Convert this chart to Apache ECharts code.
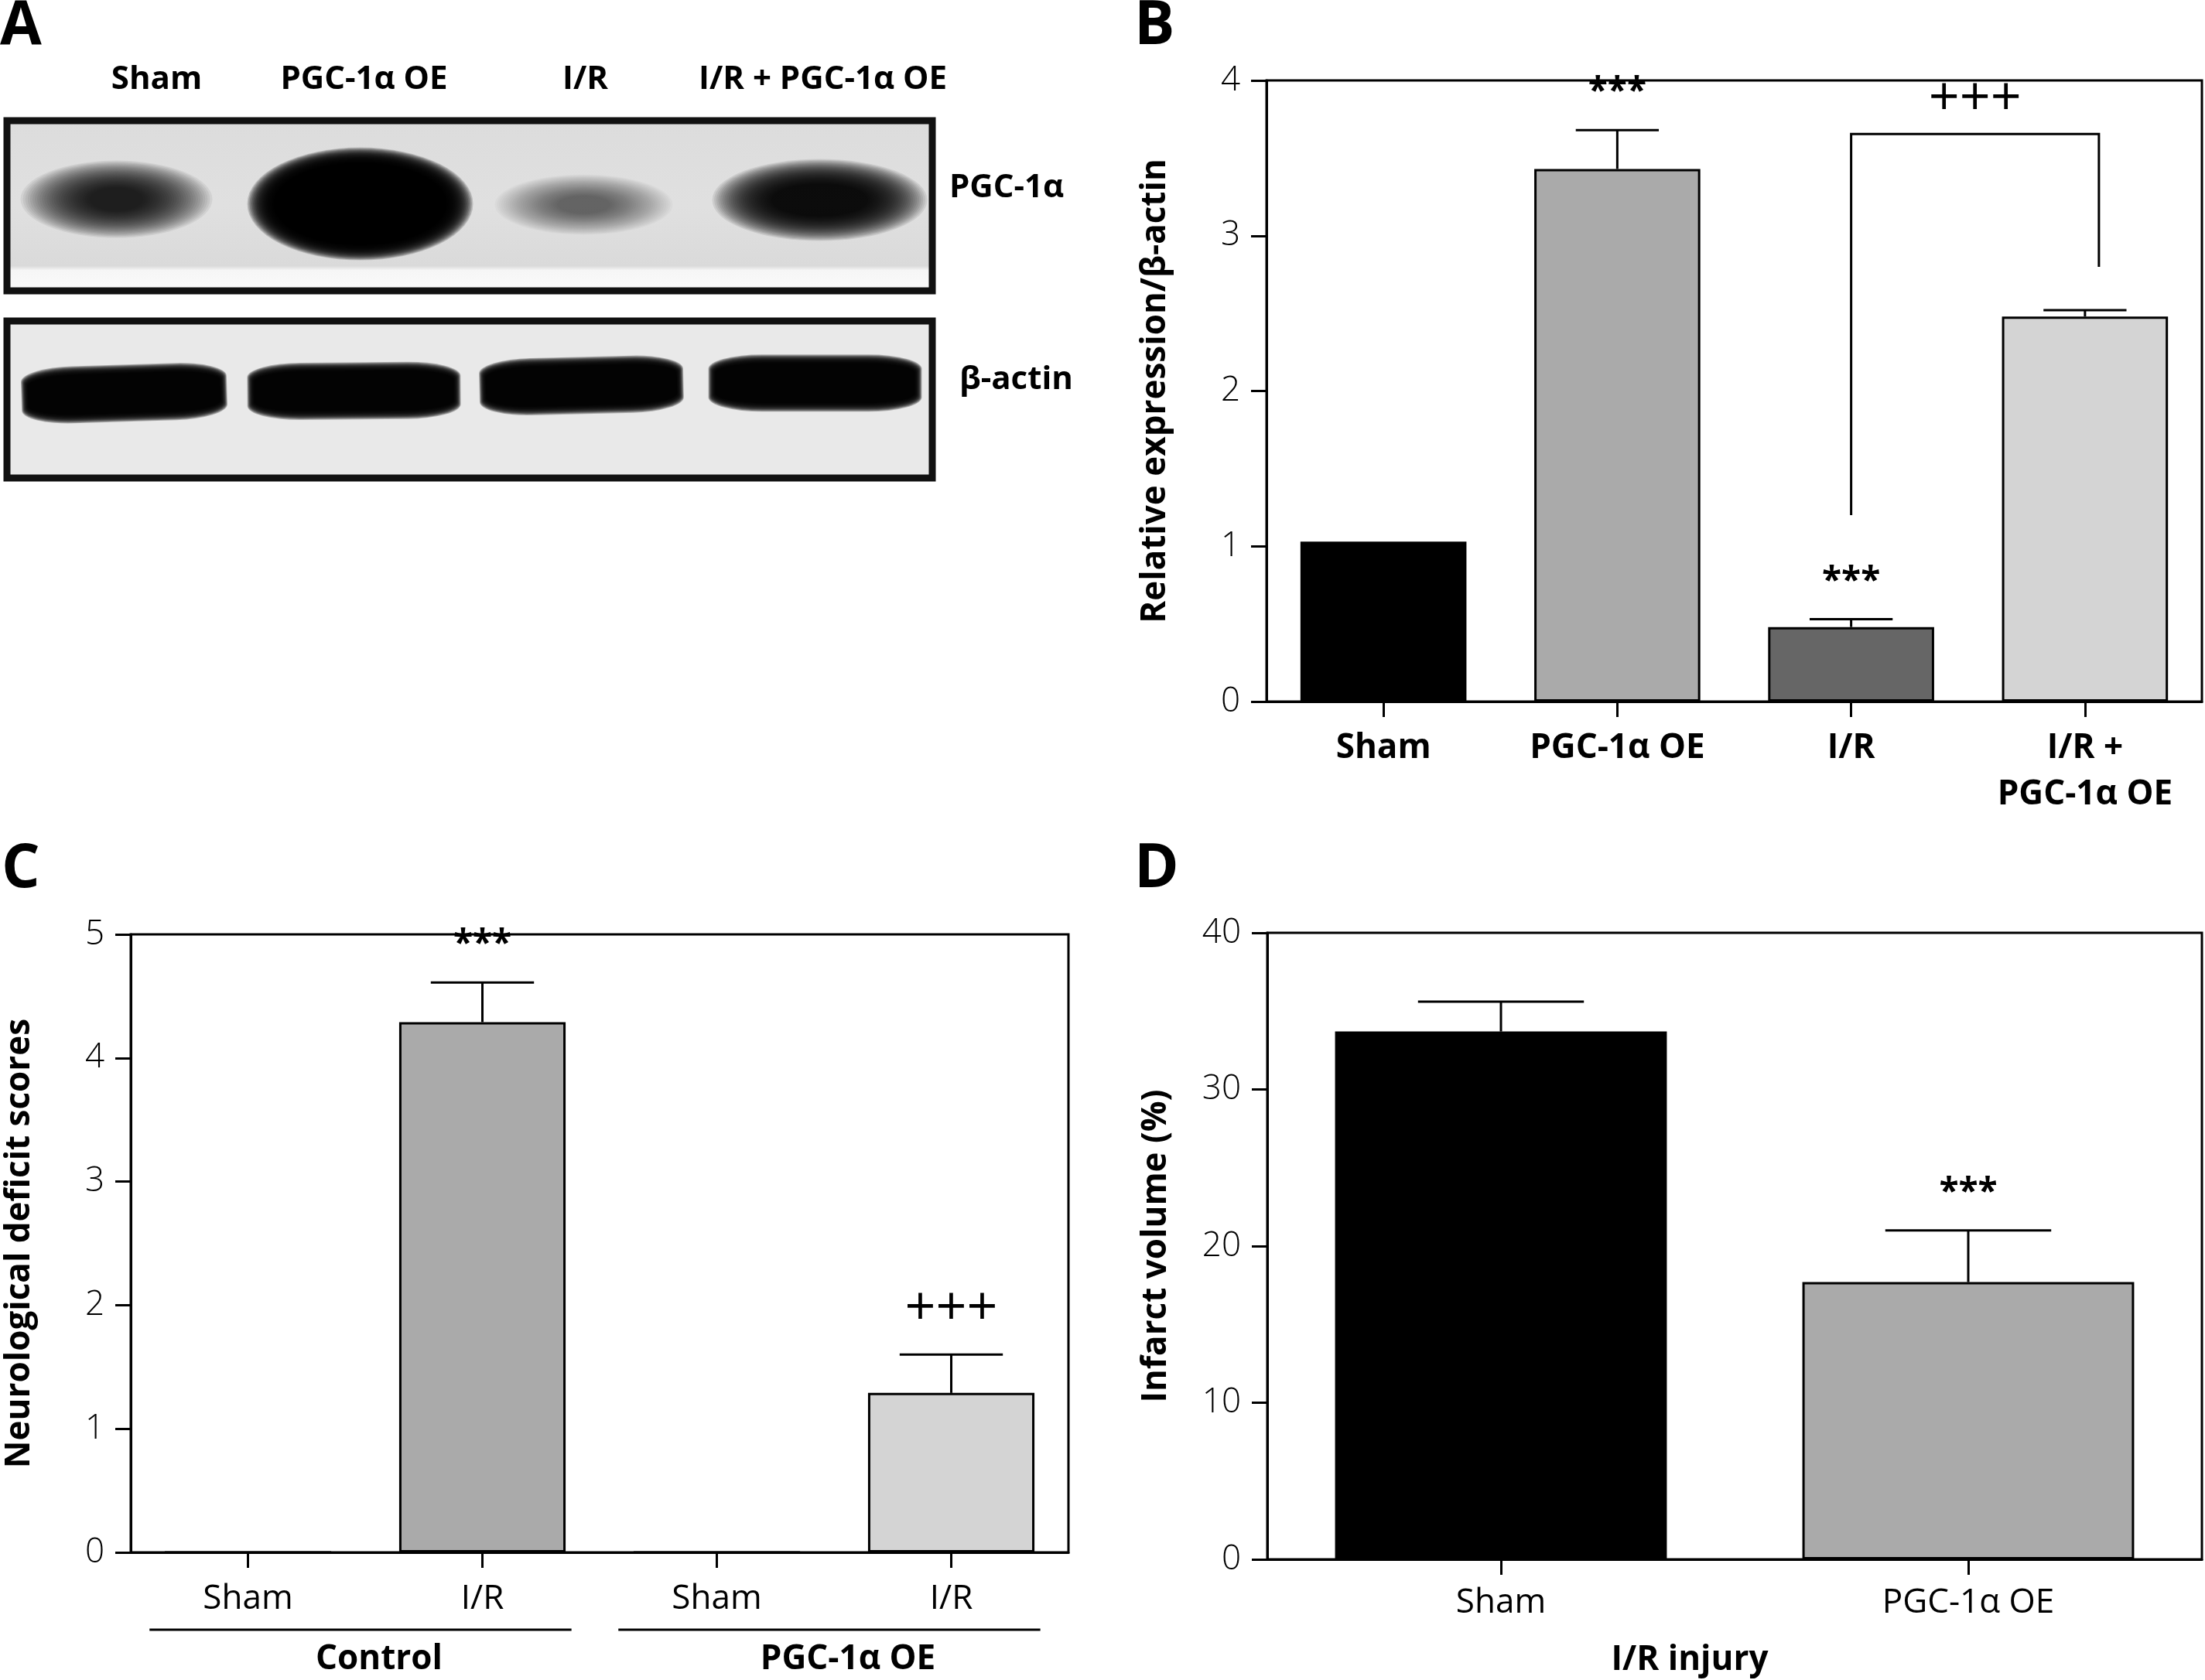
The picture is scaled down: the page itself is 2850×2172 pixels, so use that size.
<!DOCTYPE html>
<html><head><meta charset="utf-8">
<script src="https://cdn.jsdelivr.net/npm/echarts@6/dist/echarts.min.js"></script>
<style>html,body{margin:0;padding:0;background:#fff}#c{width:2850px;height:2172px}</style>
</head><body><div id="c"></div>
<script>
// ---------- Panel A : western blot ----------
const blotLanes = ['Sham', 'PGC-1α OE', 'I/R', 'I/R + PGC-1α OE'];
const blotRows = ['PGC-1α', 'β-actin'];
const pgcBandDensity = [0.9, 0.999, 0.62, 0.96];
const actinBandDensity = [0.995, 0.995, 0.995, 0.995];
// ---------- Panel B ----------
const catsB = ['Sham', 'PGC-1α OE', 'I/R', 'I/R +\nPGC-1α OE'];
const meanB = [1.03, 3.43, 0.48, 2.48];
const semB = [0, 0.25, 0.05, 0.04];
const sigB = ['', '***', '***', ''];
const bracketPairsB = [[2, 3]];
const bracketLevelB = [3.655];
const bracketEndsB = [[1.2, 2.8]];
const bracketMarksB = ['+++'];
const yNameB = 'Relative expression/β-actin';
// ---------- Panel C ----------
const catsC = ['Sham', 'I/R', 'Sham', 'I/R'];
const groupsC = ['Control', 'PGC-1α OE'];
const groupSpanC = [[0, 1], [2, 3]];
const meanC = [0, 4.29, 0, 1.29];
const semC = [0, 0.32, 0, 0.31];
const sigC = ['', '***', '', '+++'];
const yNameC = 'Neurological deficit scores';
// ---------- Panel D ----------
const catsD = ['Sham', 'PGC-1α OE'];
const meanD = [33.7, 17.7];
const semD = [1.9, 3.3];
const sigD = ['', '***'];
const yNameD = 'Infarct volume (%)';
const xNameD = 'I/R injury';

const FONT = '"Open Sans", "DejaVu Sans", sans-serif';
const LW = 3;

const chart = echarts.init(document.getElementById('c'), null, {renderer: 'canvas'});

function valueAxis(gi, max, interval, name) {
  return {
    type: 'value', gridIndex: gi, min: 0, max: max, interval: interval,
    name: name, nameLocation: 'middle', nameGap: 122, nameRotate: 90,
    nameTextStyle: {fontFamily: FONT, fontSize: 44, fontWeight: 'bold', color: '#000'},
    axisLine: {show: true, lineStyle: {color: '#000', width: LW}},
    axisTick: {show: true, length: 20, lineStyle: {color: '#000', width: LW}},
    axisLabel: {show: true, margin: 34, fontFamily: FONT, fontSize: 44, fontWeight: 300, color: '#000'},
    splitLine: {show: false}
  };
}
function catAxis(gi, cats, opts) {
  return Object.assign({
    type: 'category', gridIndex: gi, data: cats, boundaryGap: true,
    axisLine: {show: true, lineStyle: {color: '#000', width: LW}},
    axisTick: {show: true, alignWithLabel: true, length: 20, lineStyle: {color: '#000', width: LW}},
    splitLine: {show: false}
  }, opts);
}
function barSeries(ai, means, colors) {
  return {
    type: 'bar', xAxisIndex: ai, yAxisIndex: ai, barWidth: '71%', silent: true,
    data: means.map((v, i) => ({value: v, itemStyle: {color: colors[i]}})),
    itemStyle: {borderColor: '#000', borderWidth: LW}
  };
}
function errSeries(ai, means, sems, sigs, capFrac) {
  return {
    type: 'custom', xAxisIndex: ai, yAxisIndex: ai, z: 5, silent: true,
    data: means.map((m, i) => [i, m, sems[i]]),
    renderItem: function (params, api) {
      const i = api.value(0), m = api.value(1), e = api.value(2);
      const sig = sigs[params.dataIndex];
      const base = api.coord([i, m]);
      const top = api.coord([i, m + e]);
      const hw = api.size([1, 0])[0] * 0.71 * capFrac / 2;
      const ch = [];
      if (e > 0) {
        ch.push({type: 'line', shape: {x1: base[0], y1: base[1], x2: top[0], y2: top[1]}, style: {stroke: '#000', lineWidth: LW}});
        ch.push({type: 'line', shape: {x1: top[0] - hw, y1: top[1], x2: top[0] + hw, y2: top[1]}, style: {stroke: '#000', lineWidth: LW}});
      }
      if (sig) {
        const plus = sig.indexOf('+') >= 0;
        ch.push({type: 'text', x: top[0], y: top[1] - (plus ? 58 : 48), style: {
          text: sig, fill: '#000', align: 'center', verticalAlign: 'middle',
          fontFamily: FONT, fontSize: plus ? 70 : 46, fontWeight: plus ? 400 : 'bold'}});
      }
      return {type: 'group', children: ch};
    }
  };
}

// band outer extents (px), lane offsets, tilt and edge softness — purely visual styling
const pgcShape = [
  {w: 248, h: 100, dx: -8, dy: -4, rot: 0, sw: 0.72, sh: 0.7},
  {w: 292, h: 146, dx: 8, dy: 2, rot: 0, sw: 0.3, sh: 0.35},
  {w: 230, h: 78, dx: -2, dy: 3, rot: 0, sw: 0.7, sh: 0.7},
  {w: 278, h: 106, dx: 4, dy: -3, rot: 0, sw: 0.55, sh: 0.6}
];
const actinShape = [
  {w: 266, h: 74, dx: 2, dy: 6, rot: 1.8, sw: 0.07, sh: 0.32},
  {w: 276, h: 74, dx: 0, dy: 3, rot: 0.5, sw: 0.07, sh: 0.32},
  {w: 264, h: 74, dx: -5, dy: -4, rot: 1.4, sw: 0.07, sh: 0.32},
  {w: 276, h: 74, dx: -2, dy: -7, rot: 0, sw: 0.07, sh: 0.32}
];
function bandSeries(ai, dens, shapes, yPos, sym, layers) {
  const data = [];
  for (let k = 0; k < layers; k++) {
    const t = k / (layers - 1);
    dens.forEach((d, i) => {
      const s = shapes[i];
      const a = 1 - Math.pow(1 - d, 1 / layers);
      const c = 'rgba(0,0,0,' + a.toFixed(4) + ')';
      data.push({
        value: [i, yPos],
        symbolSize: [s.w * (1 - s.sw * t), s.h * (1 - s.sh * t)],
        symbolOffset: [s.dx, s.dy],
        symbolRotate: s.rot,
        itemStyle: {color: c}
      });
    });
  }
  return {type: 'scatter', xAxisIndex: ai, yAxisIndex: ai, silent: true, symbol: sym, data: data};
}

const laneShift = [88, 26, 0, 16];
const laneRich = {};
laneShift.forEach((s, i) => {
  laneRich['l' + i] = {fontFamily: FONT, fontSize: 42, fontWeight: 'bold', color: '#000', padding: [0, 0, 0, s]};
});

const titleStyle = {fontFamily: FONT, fontSize: 78, fontWeight: 'bold', color: '#000'};
const option = {
  animation: false,
  backgroundColor: '#fff',
  title: [
    {text: 'A', left: 0, top: -4, padding: 0, textStyle: titleStyle},
    {text: 'B', left: 1466, top: -4, padding: 0, textStyle: titleStyle},
    {text: 'C', left: 2, top: 1086, padding: 0, textStyle: titleStyle},
    {text: 'D', left: 1466, top: 1086, padding: 0, textStyle: titleStyle},
    {text: blotRows[0], left: 1227, top: 222, padding: 0, textStyle: {fontFamily: FONT, fontSize: 42, fontWeight: 'bold', color: '#000'}},
    {text: blotRows[1], left: 1240, top: 470, padding: 0, textStyle: {fontFamily: FONT, fontSize: 42, fontWeight: 'bold', color: '#000'}}
  ],
  grid: [
    {left: 9, top: 156, width: 1196, height: 220, show: true, borderColor: '#111', borderWidth: 9,
      backgroundColor: {type: 'linear', x: 0, y: 0, x2: 0, y2: 1, colorStops: [
        {offset: 0, color: '#dcdcdc'}, {offset: 0.5, color: '#e0e0e0'}, {offset: 0.84, color: '#dadada'},
        {offset: 0.865, color: '#f6f6f6'}, {offset: 1, color: '#fbfbfb'}]}, outerBoundsMode: 'none'},
    {left: 9, top: 415, width: 1196, height: 203, show: true, borderColor: '#111', borderWidth: 9,
      backgroundColor: '#e9e9e9', outerBoundsMode: 'none'},
    {left: 1637, top: 104, width: 1209, height: 803, show: true, borderColor: '#000', borderWidth: LW, outerBoundsMode: 'none'},
    {left: 169, top: 1208, width: 1212, height: 799, show: true, borderColor: '#000', borderWidth: LW, outerBoundsMode: 'none'},
    {left: 1638, top: 1206, width: 1208, height: 810, show: true, borderColor: '#000', borderWidth: LW, outerBoundsMode: 'none'}
  ],
  xAxis: [
    {type: 'category', gridIndex: 0, data: blotLanes, position: 'top', boundaryGap: true,
      axisLine: {show: false}, axisTick: {show: false}, splitLine: {show: false},
      axisLabel: {interval: 0, margin: 32, formatter: (v, i) => '{l' + i + '|' + v + '}', rich: laneRich,
        fontFamily: FONT, fontSize: 42, fontWeight: 'bold', color: '#000'}},
    {type: 'category', gridIndex: 1, data: blotLanes, boundaryGap: true, show: false},
    catAxis(2, catsB, {axisLabel: {interval: 0, margin: 30, lineHeight: 60, fontFamily: FONT, fontSize: 44, fontWeight: 'bold', color: '#000'}}),
    catAxis(3, catsC, {axisLabel: {interval: 0, margin: 38, fontFamily: FONT, fontSize: 44, fontWeight: 400, color: '#000'}}),
    catAxis(4, catsD, {axisLabel: {interval: 0, margin: 34, fontFamily: FONT, fontSize: 44, fontWeight: 400, color: '#000'},
      name: xNameD, nameLocation: 'middle', nameGap: 108,
      nameTextStyle: {fontFamily: FONT, fontSize: 44, fontWeight: 'bold', color: '#000', padding: [0, 116, 0, 0]}})
  ],
  yAxis: [
    {type: 'value', gridIndex: 0, min: 0, max: 1, show: false},
    {type: 'value', gridIndex: 1, min: 0, max: 1, show: false},
    valueAxis(2, 4, 1, yNameB),
    valueAxis(3, 5, 1, yNameC),
    valueAxis(4, 40, 10, yNameD)
  ],
  series: [
    bandSeries(0, pgcBandDensity, pgcShape, 0.52, 'circle', 30),
    bandSeries(1, actinBandDensity, actinShape, 0.57, 'roundRect', 14),
    barSeries(2, meanB, ['#000000', '#aaaaaa', '#666666', '#d4d4d4']),
    errSeries(2, meanB, semB, sigB, 0.5),
    {
      type: 'custom', xAxisIndex: 2, yAxisIndex: 2, z: 5, silent: true,
      data: bracketPairsB.map((p, k) => [p[0], bracketLevelB[k]]),
      renderItem: function (params, api) {
        const k = params.dataIndex;
        const a = bracketPairsB[k][0], b = bracketPairsB[k][1];
        const lvl = bracketLevelB[k];
        const pA = api.coord([a, bracketEndsB[k][0]]);
        const pAt = api.coord([a, lvl]);
        const pBt = api.coord([b, lvl]);
        const pB = api.coord([b, bracketEndsB[k][1]]);
        const dx = 18;
        return {type: 'group', children: [
          {type: 'polyline', shape: {points: [pA, pAt, [pBt[0] + dx, pBt[1]], [pB[0] + dx, pB[1]]]},
            style: {stroke: '#000', lineWidth: LW, fill: null}},
          {type: 'text', x: (pAt[0] + pBt[0] + dx) / 2, y: pAt[1] - 44, style: {
            text: bracketMarksB[k], fill: '#000', align: 'center', verticalAlign: 'middle',
            fontFamily: FONT, fontSize: 70, fontWeight: 400}}
        ]};
      }
    },
    barSeries(3, meanC, ['#ffffff', '#aaaaaa', '#ffffff', '#d4d4d4']),
    errSeries(3, meanC, semC, sigC, 0.62),
    {
      type: 'custom', xAxisIndex: 3, yAxisIndex: 3, z: 5, silent: true,
      data: groupSpanC.map(s => [s[0], 0]),
      renderItem: function (params, api) {
        const k = params.dataIndex;
        const pa = api.coord([groupSpanC[k][0], 0]);
        const pb = api.coord([groupSpanC[k][1], 0]);
        const w = api.size([1, 0])[0];
        return {type: 'group', children: [
          {type: 'line', shape: {x1: pa[0] - 0.42 * w, y1: pa[1] + 100, x2: pb[0] + 0.38 * w, y2: pa[1] + 100},
            style: {stroke: '#000', lineWidth: LW}},
          {type: 'text', x: (pa[0] + pb[0]) / 2 + 18, y: pa[1] + 138, style: {
            text: groupsC[k], fill: '#000', align: 'center', verticalAlign: 'middle',
            fontFamily: FONT, fontSize: 44, fontWeight: 'bold'}}
        ]};
      }
    },
    barSeries(4, meanD, ['#000000', '#aaaaaa']),
    errSeries(4, meanD, semD, sigD, 0.5)
  ]
};
chart.setOption(option);
</script>
</body></html>
